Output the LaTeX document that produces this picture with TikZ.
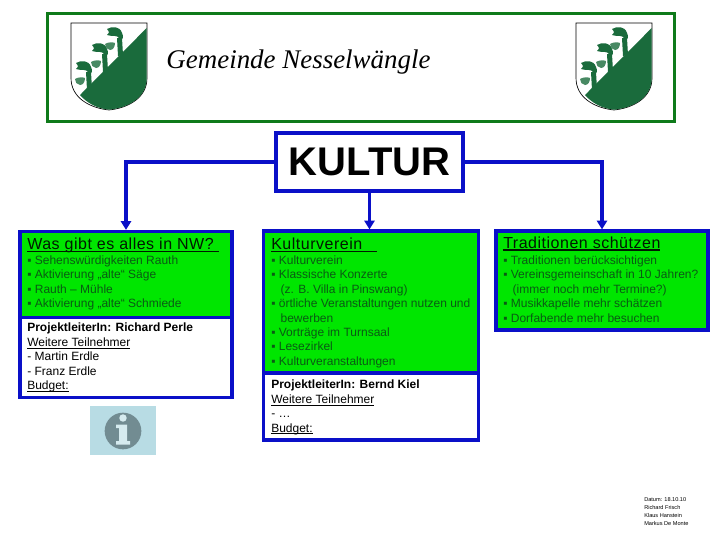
\documentclass[tikz,border=0pt]{standalone}
\usepackage{fontspec}
\setmainfont{Liberation Sans}
\newfontfamily\titlefont{Liberation Serif}
\newfontfamily\headfont[LetterSpace=3.2]{Liberation Sans}
\usetikzlibrary{arrows.meta}
\definecolor{hdrgreen}{HTML}{0F7A1A}
\definecolor{boxblue}{HTML}{0A10C8}
\definecolor{fillgreen}{HTML}{00E600}
\definecolor{txtgreen}{HTML}{0A5A14}
\definecolor{shieldgreen}{HTML}{1A6B3C}
\definecolor{infobg}{HTML}{B8DCE4}
\definecolor{infodark}{HTML}{728C92}
\definecolor{infolight}{HTML}{D6EBEF}
\newcommand{\myul}[3]{\setbox0\hbox{#3}\rlap{\rule[#1]{\wd0}{#2}}\box0}
\newcommand{\ulh}[1]{\myul{-2.1pt}{1.2pt}{#1}}
\newcommand{\uls}[1]{\myul{-1.7pt}{0.8pt}{#1}}
\newcommand{\crest}[1]{%
\begin{scope}[xshift=#1*0.75pt]
 \path[draw=black,line width=0.5pt,fill=white] (71,23)--(147,23)--(147,78) .. controls (147,98) and (128,108) .. (109,110) .. controls (90,108) and (71,98) .. (71,78) --cycle;
 \path[fill=shieldgreen] (146.7,28)--(146.7,78) .. controls (146.7,98) and (128,107.7) .. (109,109.7) .. controls (97,108.5) and (87,103) .. (80,95) --cycle;
 \foreach \lx/\ly in {115/33,100/49,84/67}{
  \path[fill=shieldgreen] (\lx-8,\ly-4) .. controls (\lx-3,\ly-7) and (\lx+5,\ly-7) .. (\lx+7,\ly) .. controls (\lx+9,\ly+4) and (\lx+8,\ly+7) .. (\lx+5,\ly+6) .. controls (\lx+2,\ly+1) and (\lx-3,\ly+4) .. (\lx-8,\ly+2) .. controls (\lx-6,\ly+1) and (\lx-5,\ly-1) .. (\lx-8,\ly-4) --cycle;
  \path[fill=shieldgreen] (\lx+2,\ly+5)--(\lx+7,\ly+5)--(\lx+8,\ly+22)--(\lx+3,\ly+23)--cycle;
 }
 \foreach \lx/\ly in {110/46,96/64,80/81}{
  \path[fill=shieldgreen!80] (\lx-5,\ly-2) .. controls (\lx-2,\ly-4) and (\lx+3,\ly-4) .. (\lx+5,\ly-3) .. controls (\lx+5,\ly+1) and (\lx+3,\ly+4) .. (\lx,\ly+4) .. controls (\lx-3,\ly+4) and (\lx-5,\ly+1) .. (\lx-5,\ly-2) --cycle;
 }
\end{scope}}
\tikzset{
 px/.style={x=0.75pt,y=-0.75pt},
 boxsize/.style 2 args={minimum width=#1*0.75pt,minimum height=#2*0.75pt},
 bluebox/.style={draw=boxblue,line width=2.4pt,inner sep=0pt},
 greenbox/.style={bluebox,fill=fillgreen},
 whitebox/.style={bluebox,fill=white},
 head/.style={anchor=base west,inner sep=0pt,font=\headfont\fontsize{12pt}{14pt}\selectfont,text=black!90!green},
 bullets/.style={anchor=north west,inner sep=0pt,align=left,text=txtgreen,font=\fontsize{9pt}{10.8pt}\selectfont},
 people/.style={anchor=north west,inner sep=0pt,align=left,text=black,font=\fontsize{9pt}{10.8pt}\selectfont},
 link/.style={draw=boxblue,line width=2.4pt,-{Triangle[length=6.5pt,width=7.5pt]}}
}
\begin{document}
\begin{tikzpicture}[px]
\useasboundingbox (0,0) rectangle (720,540);
\fill[white] (0,0) rectangle (720,540);
% header
\node[draw=hdrgreen,line width=2.2pt,inner sep=0pt,boxsize={627}{108}] (hdr) at (361,67.5) {};
\crest{0}\crest{505}
\node[inner sep=0pt,font=\titlefont\itshape\fontsize{20.2pt}{24pt}\selectfont] (title) at (298.5,62) {Gemeinde Nesselwängle};
% KULTUR
\node[bluebox,boxsize={187}{58},font=\bfseries\fontsize{30pt}{34pt}\selectfont] (kultur) at (369.5,162) {\raisebox{1pt}{KULTUR}};
% boxes
\node[greenbox,boxsize={212}{86}] (a) at (126,274.5) {};
\node[whitebox,boxsize={212}{80}] (a2) at (126,357.5) {};
\node[greenbox,boxsize={215}{142}] (b) at (371,302) {};
\node[whitebox,boxsize={215}{67}] (b2) at (371,406.5) {};
\node[greenbox,boxsize={212}{99}] (c) at (602,280.5) {};
% connectors
\draw[link] (kultur.west) -| (a.north);
\draw[link] (kultur.south) -- (kultur.south |- b.north);
\draw[link] (kultur.east) -| (c.north);
% texts
\node[head] (ah) at (27,249.5) {\ulh{Was gibt es alles in NW?\ }};
\node[bullets] (al) at (27,255.5) {▪ Sehenswürdigkeiten Rauth\\▪ Aktivierung „alte“ Säge\\▪ Rauth – Mühle\\▪ Aktivierung „alte“ Schmiede};
\node[people] (ap) at (27,323) {\textbf{ProjektleiterIn: Richard Perle}\\\uls{Weitere Teilnehmer}\\- Martin Erdle\\- Franz Erdle\\\uls{Budget:}};
\node[head] (bh) at (271,249.5) {\ulh{Kulturverein\ \ \ }};
\node[bullets] (bl) at (271,255.5) {▪ Kulturverein\\▪ Klassische Konzerte\\\hspace*{7pt}(z. B. Villa in Pinswang)\\▪ örtliche Veranstaltungen nutzen und\\\hspace*{7pt}bewerben\\▪ Vorträge im Turnsaal\\▪ Lesezirkel\\▪ Kulturveranstaltungen};
\node[people] (bp) at (271,380) {\textbf{ProjektleiterIn: Bernd Kiel}\\\uls{Weitere Teilnehmer}\\- …\\\uls{Budget:}};
\node[head] (ch) at (503,248) {\ulh{Traditionen schützen}};
\node[bullets] (cl) at (503,255.5) {▪ Traditionen berücksichtigen\\▪ Vereinsgemeinschaft in 10 Jahren?\\\hspace*{7pt}(immer noch mehr Termine?)\\▪ Musikkapelle mehr schätzen\\▪ Dorfabende mehr besuchen};
% info icon
\node[fill=infobg,inner sep=0pt,boxsize={66}{49}] (info) at (123,430.5) {};
\node[fill=infodark,circle,inner sep=0pt,minimum size=27.5pt] (infoc) at (123,431) {};
\node[fill=infolight,circle,inner sep=0pt,minimum size=5.6pt] (infod) at (123,418) {};
\path[fill=infolight] (116,424.5)--(127,424.5)--(127,441)--(130,441)--(130,444.5)--(116,444.5)--(116,441)--(119,441)--(119,428)--(116,428)--cycle;
% footer
\node[anchor=north west,inner sep=0pt,align=left,font=\fontsize{4.2pt}{6.2pt}\selectfont] (foot) at (644,497) {Datum: 18.10.10\\Richard Frisch\\Klaus Hanstein\\Markus De Monte};
\end{tikzpicture}
\end{document}
